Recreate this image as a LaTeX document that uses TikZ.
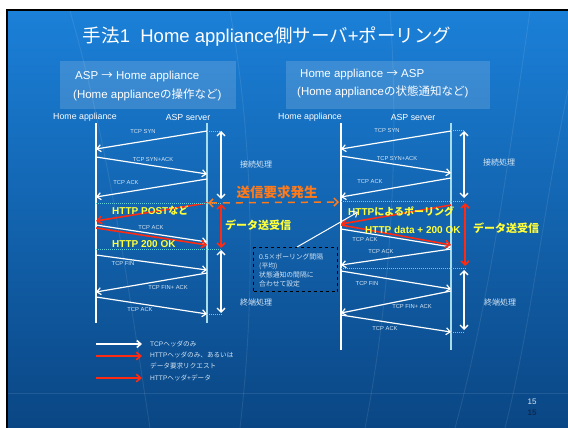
\documentclass[tikz,border=0pt]{standalone}
\usepackage{fontspec}
\setmainfont{Liberation Sans}
\newfontfamily\jp{Noto Sans CJK JP}
\usetikzlibrary{arrows.meta}
\definecolor{bgtop}{HTML}{1B80D8}
\definecolor{bgmid}{HTML}{0F60B2}
\definecolor{bgbot}{HTML}{0A4684}
\definecolor{aspc}{HTML}{A6DDE6}
\definecolor{dotc}{HTML}{62D2D6}
\definecolor{redc}{HTML}{FF2A12}
\definecolor{orc}{HTML}{FF7A1A}
\definecolor{yelc}{HTML}{FFFF3A}
\definecolor{lblc}{HTML}{D5E6F5}
\definecolor{navyc}{HTML}{0B2C55}
\newcommand\myfs[1]{\fontsize{#1}{#1}\selectfont}
\begin{document}
\begin{tikzpicture}[x=1pt,y=-1pt,
  deco/.style={draw=white, opacity=0.09, line width=0.9pt},
  hdrbox/.style={fill=white, fill opacity=0.15, inner sep=0, anchor=north west},
  hdrtxt/.style={text=white, font=\myfs{11.5}, anchor=west, inner sep=0},
  collbl/.style={text=white, font=\myfs{8.8}, inner sep=0},
  haline/.style={draw=white, line width=1.2pt},
  aspline/.style={draw=aspc, line width=1.5pt},
  msgw/.style={draw=white, line width=1.2pt, -{Straight Barb[length=4pt,width=7pt]}},
  msgr/.style={draw=redc, line width=1.6pt, -{Straight Barb[length=4.5pt,width=7.5pt]}},
  lbl/.style={text=lblc, font=\myfs{5.8}, inner sep=0},
  dotl/.style={draw=dotc, line width=1pt, densely dotted},
  dblw/.style={draw=white, line width=1.4pt, {Straight Barb[length=4pt,width=8pt]}-{Straight Barb[length=4pt,width=8pt]}},
  dblr/.style={draw=redc, line width=1.6pt, {Straight Barb[length=4pt,width=8pt]}-{Straight Barb[length=4pt,width=8pt]}},
  phase/.style={text=lblc, font=\jp\myfs{8}, anchor=west, inner sep=0},
  ylbl/.style={text=yelc, font=\bfseries\myfs{10}, anchor=west, inner sep=0},
  boxtxt/.style={text=lblc, font=\myfs{6.8}, anchor=west, inner sep=0},
  legtxt/.style={text=lblc, font=\myfs{6.6}, anchor=west, inner sep=0}]
\useasboundingbox (0,0) rectangle (568,428);
\fill[white] (0,0) rectangle (568,428);
\shade[top color=bgtop, middle color=bgmid, bottom color=bgbot] (8,11) rectangle (568,428);
% faint globe lines
\draw[deco] (70,11) .. controls (110,150) and (130,300) .. (150,428);
\draw[deco] (230,11) .. controls (255,150) and (255,300) .. (240,428);
\draw[deco] (390,11) .. controls (400,150) and (390,300) .. (365,428);
\draw[deco] (530,11) .. controls (510,150) and (490,300) .. (455,428);
\draw[deco] (568,90) .. controls (545,200) and (530,330) .. (505,428);
\draw[deco] (8,393) -- (568,393);
\draw[black, line width=2.2pt] (7,428) -- (7,10) -- (568,10);

% title
\node[text=white, font=\myfs{18.5}, inner sep=0] (title) at (267,37)
  {{\jp 手法}1\ \ Home appliance{\jp 側サーバ}+{\jp ポーリング}};

% header boxes
\node[hdrbox, minimum width=176pt, minimum height=48pt] (hb1) at (60,61) {};
\node[hdrbox, minimum width=204pt, minimum height=48pt] (hb2) at (286,61) {};
\node[hdrtxt] (h1a) at (75,77) {ASP {\jp →} Home appliance};
\node[hdrtxt] (h1b) at (73,95) {(Home appliance{\jp の操作など})};
\node[hdrtxt] (h2a) at (300,75) {Home appliance {\jp →} ASP};
\node[hdrtxt] (h2b) at (297,92) {(Home appliance{\jp の状態通知など})};

% column labels
\node[collbl] (cl1) at (85,117) {Home appliance};
\node[collbl] (cl2) at (188,117) {ASP server};
\node[collbl] (cl3) at (310,117) {Home appliance};
\node[collbl] (cl4) at (413,117) {ASP server};

% lifelines
\coordinate (LH0) at (96,123);  \coordinate (LH1) at (96,323);
\coordinate (LA0) at (207,123); \coordinate (LA1) at (207,323);
\coordinate (RH0) at (341,123); \coordinate (RH1) at (341,350);
\coordinate (RA0) at (451,123); \coordinate (RA1) at (451,350);
\draw[haline] (LH0) -- (LH1);
\draw[aspline] (LA0) -- (LA1);
\draw[haline] (RH0) -- (RH1);
\draw[aspline] (RA0) -- (RA1);

% ---------- left diagram ----------
\coordinate (l1s) at (207,131); \coordinate (l1e) at (96,149);
\coordinate (l2s) at (96,157);  \coordinate (l2e) at (207,174);
\coordinate (l3s) at (207,179); \coordinate (l3e) at (96,197);
\coordinate (l4s) at (207,203); \coordinate (l4e) at (96,221);
\coordinate (l5s) at (96,225);  \coordinate (l5e) at (207,242);
\coordinate (l6s) at (96,228);  \coordinate (l6e) at (207,245);
\coordinate (l7s) at (96,255);  \coordinate (l7e) at (207,270);
\coordinate (l8s) at (207,273); \coordinate (l8e) at (96,292);
\coordinate (l9s) at (96,297);  \coordinate (l9e) at (207,314);
\draw[msgw] (l1s) -- (l1e);
\draw[msgw] (l2s) -- (l2e);
\draw[msgw] (l3s) -- (l3e);
\draw[msgr] (l4s) -- (l4e);
\draw[msgw] (l5s) -- (l5e);
\draw[msgr] (l6s) -- (l6e);
\draw[msgw] (l7s) -- (l7e);
\draw[msgw] (l8s) -- (l8e);
\draw[msgw] (l9s) -- (l9e);
\node[lbl] (t1) at (143,132) {TCP SYN};
\node[lbl] (t2) at (153,160) {TCP SYN+ACK};
\node[lbl] (t3) at (126,183) {TCP ACK};
\node[lbl] (t4) at (151,228) {TCP ACK};
\node[lbl] (t5) at (123,264) {TCP FIN};
\node[lbl] (t6) at (168,288) {TCP FIN+ ACK};
\node[lbl] (t7) at (140,310) {TCP ACK};
% dotted markers
\coordinate (ld1a) at (207,131); \coordinate (ld1b) at (222,131);
\coordinate (ld2a) at (96,203);  \coordinate (ld2b) at (222,203);
\coordinate (ld3a) at (96,249);  \coordinate (ld3b) at (222,249);
\coordinate (ld4a) at (207,314); \coordinate (ld4b) at (222,314);
\draw[dotl] (ld1a) -- (ld1b);
\draw[dotl] (ld2a) -- (ld2b);
\draw[dotl] (ld3a) -- (ld3b);
\draw[dotl] (ld4a) -- (ld4b);
% phase arrows
\coordinate (lp1a) at (221,131); \coordinate (lp1b) at (221,199);
\coordinate (lp2a) at (221,204); \coordinate (lp2b) at (221,248);
\coordinate (lp3a) at (221,250); \coordinate (lp3b) at (221,313);
\draw[dblw] (lp1a) -- (lp1b);
\draw[dblr] (lp2a) -- (lp2b);
\draw[dblw] (lp3a) -- (lp3b);
\node[phase] (ph1) at (240,164) {接続処理};
\node[phase] (ph2) at (240,302) {終端処理};
\node[ylbl] (y1) at (112,211) {HTTP POST{\jp など}};
\node[ylbl] (y2) at (112,244) {HTTP 200 OK};
\node[ylbl, font=\jp\bfseries\myfs{11}] (y3) at (225,225) {データ送受信};

% ---------- request event ----------
\coordinate (ev1) at (208,203); \coordinate (ev2) at (339,202);
\draw[draw=orc, line width=1.5pt, dash pattern=on 7pt off 6pt,
  {Straight Barb[length=4pt,width=8pt]}-{Straight Barb[length=4pt,width=8pt]}] (ev1) -- (ev2);
\node[text=orc, font=\jp\bfseries\myfs{13.5}, inner sep=0] (evt) at (277,192) {送信要求発生};

% ---------- right diagram ----------
\coordinate (r1s) at (451,131); \coordinate (r1e) at (341,149);
\coordinate (r2s) at (341,156); \coordinate (r2e) at (451,173);
\coordinate (r3s) at (451,178); \coordinate (r3e) at (341,197);
\coordinate (r4s) at (451,205); \coordinate (r4e) at (341,224);
\coordinate (r5s) at (341,229); \coordinate (r5e) at (451,247);
\coordinate (r6s) at (341,225); \coordinate (r6e) at (451,245);
\coordinate (r7s) at (451,249); \coordinate (r7e) at (341,265);
\coordinate (r8s) at (341,271); \coordinate (r8e) at (451,289);
\coordinate (r9s) at (451,291); \coordinate (r9e) at (341,313);
\coordinate (r10s) at (341,315); \coordinate (r10e) at (451,332);
\draw[msgw] (r1s) -- (r1e);
\draw[msgw] (r2s) -- (r2e);
\draw[msgw] (r3s) -- (r3e);
\draw[msgw] (r5s) -- (r5e);
\draw[msgr] (r4s) -- (r4e);
\draw[msgr] (r6s) -- (r6e);
\draw[msgw] (r7s) -- (r7e);
\draw[msgw] (r8s) -- (r8e);
\draw[msgw] (r9s) -- (r9e);
\draw[msgw] (r10s) -- (r10e);
\node[lbl] (u1) at (387,131) {TCP SYN};
\node[lbl] (u2) at (397,159) {TCP SYN+ACK};
\node[lbl] (u3) at (370,182) {TCP ACK};
\node[lbl] (u4) at (365,240) {TCP ACK};
\node[lbl] (u5) at (381,252) {TCP ACK};
\node[lbl] (u6) at (367,284) {TCP FIN};
\node[lbl] (u7) at (412,307) {TCP FIN+ ACK};
\node[lbl] (u8) at (385,329) {TCP ACK};
\coordinate (rd1a) at (451,130); \coordinate (rd1b) at (464,130);
\coordinate (rd2a) at (341,201); \coordinate (rd2b) at (465,201);
\coordinate (rd3a) at (341,268); \coordinate (rd3b) at (466,268);
\coordinate (rd4a) at (451,332); \coordinate (rd4b) at (464,332);
\draw[dotl] (rd1a) -- (rd1b);
\draw[dotl] (rd2a) -- (rd2b);
\draw[dotl] (rd3a) -- (rd3b);
\draw[dotl] (rd4a) -- (rd4b);
\coordinate (rp1a) at (464,131); \coordinate (rp1b) at (464,198);
\coordinate (rp2a) at (465,203); \coordinate (rp2b) at (465,266);
\coordinate (rp3a) at (464,270); \coordinate (rp3b) at (464,330);
\draw[dblw] (rp1a) -- (rp1b);
\draw[dblr] (rp2a) -- (rp2b);
\draw[dblw] (rp3a) -- (rp3b);
\node[phase] (ph3) at (483,162) {接続処理};
\node[phase] (ph4) at (484,302) {終端処理};
\node[ylbl] (y4) at (348,212) {HTTP{\jp によるポーリング}};
\node[ylbl] (y5) at (365,230) {HTTP data + 200 OK};
\node[ylbl, font=\jp\bfseries\myfs{11}] (y6) at (473,228) {データ送受信};

% ---------- note box ----------
\node[draw=black, line width=1pt, dashed, inner sep=0, minimum width=84pt,
  minimum height=44pt, anchor=north west] (note) at (253,247) {};
\node[boxtxt] (n1) at (259,257) {0.5{\jp ×ポーリング間隔}};
\node[boxtxt] (n2) at (259,266) {{\jp (平均)}};
\node[boxtxt] (n3) at (259,275) {{\jp 状態通知の間隔に}};
\node[boxtxt] (n4) at (259,284) {{\jp 合わせて設定}};
\coordinate (pt) at (358,212);
\draw[msgw, line width=1pt] (297,247) -- (pt);

% ---------- legend ----------
\coordinate (g1a) at (96,344); \coordinate (g1b) at (142,344);
\coordinate (g2a) at (96,356); \coordinate (g2b) at (142,356);
\coordinate (g3a) at (96,378); \coordinate (g3b) at (142,378);
\draw[msgw, line width=1.6pt] (g1a) -- (g1b);
\draw[msgr] (g2a) -- (g2b);
\draw[msgr] (g3a) -- (g3b);
\node[legtxt] (k1) at (150,344) {TCP{\jp ヘッダのみ}};
\node[legtxt] (k2) at (150,355) {HTTP{\jp ヘッダのみ、あるいは}};
\node[legtxt] (k3) at (150,366) {{\jp データ要求リクエスト}};
\node[legtxt] (k4) at (150,378) {HTTP{\jp ヘッダ}+{\jp データ}};

% page numbers
\node[text=lblc, font=\myfs{8}, inner sep=0] (pg1) at (532,402) {15};
\node[text=navyc, font=\bfseries\myfs{8}, inner sep=0] (pg2) at (532,413) {15};
\end{tikzpicture}
\end{document}
